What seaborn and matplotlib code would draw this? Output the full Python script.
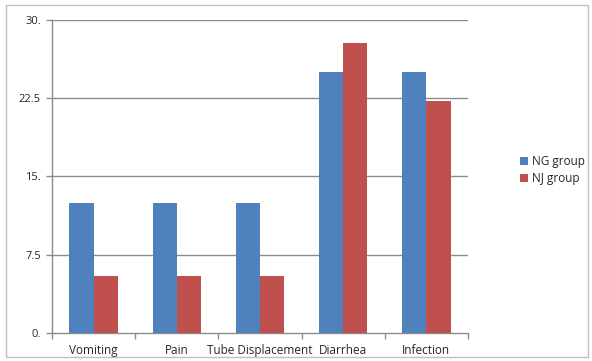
import matplotlib
matplotlib.use("Agg")
import matplotlib.pyplot as plt
import seaborn as sns
import pandas as pd
from matplotlib.patches import Rectangle

categories = ["Vomiting", "Pain", "Tube Displacement", "Diarrhea", "Infection"]
ng_group = [12.5, 12.5, 12.5, 25.0, 25.0]
nj_group = [5.5, 5.5, 5.5, 27.8, 22.2]
series_names = ["NG group", "NJ group"]
y_ticks = [0, 7.5, 15, 22.5, 30]
y_tick_labels = ["0.", "7.5", "15.", "22.5", "30."]

df = pd.DataFrame({
    "category": categories * 2,
    "value": ng_group + nj_group,
    "group": [series_names[0]] * len(categories) + [series_names[1]] * len(categories),
})

sns.set_style("white")
plt.rcParams["font.family"] = ["Open Sans", "DejaVu Sans"]

fig = plt.figure(figsize=(5.92, 3.61), dpi=100)
ax = fig.add_axes([52 / 592, 1 - 333 / 361, (468 - 52) / 592, (333 - 20) / 361])

palette = {"NG group": "#4F81BD", "NJ group": "#C0504D"}
sns.barplot(data=df, x="category", y="value", hue="group", order=categories,
            hue_order=series_names, palette=palette, width=0.58, gap=0,
            saturation=1, linewidth=0, ax=ax, legend=True, zorder=3)

ax.set_ylim(0, 30)
ax.set_xlim(-0.5, len(categories) - 0.5)
ax.set_yticks(y_ticks)
ax.set_yticklabels(y_tick_labels, fontsize=8)
ax.set_xlabel("")
ax.set_ylabel("")
ax.tick_params(axis="x", which="both", bottom=True)
ax.tick_params(axis="y", which="both", left=True)
ax.tick_params(axis="x", which="major", length=0, labelsize=8.5, pad=8)
ax.set_xticks([i - 0.5 for i in range(len(categories) + 1)], minor=True)
ax.tick_params(axis="x", which="minor", length=4, color="#8c8c8c", width=1)
ax.tick_params(axis="y", length=4, color="#8c8c8c", width=1, pad=4)

for y in y_ticks[1:]:
    ax.axhline(y, color="#8c8c8c", lw=1, zorder=1)

for side in ["top", "right"]:
    ax.spines[side].set_visible(False)
for side in ["left", "bottom"]:
    ax.spines[side].set_color("#8c8c8c")
    ax.spines[side].set_linewidth(1)

leg = ax.legend(loc="center left", bbox_to_anchor=(1.1, 0.52), frameon=False,
                fontsize=8.5, handlelength=0.7, handleheight=0.7, handletextpad=0.3,
                labelspacing=0.3)

fig.patches.append(Rectangle((6 / 592, 4 / 361), 582 / 592, 352 / 361,
                             transform=fig.transFigure, fill=False,
                             edgecolor="#bfbfbf", lw=1))

fig.savefig("out.png", dpi=100)
